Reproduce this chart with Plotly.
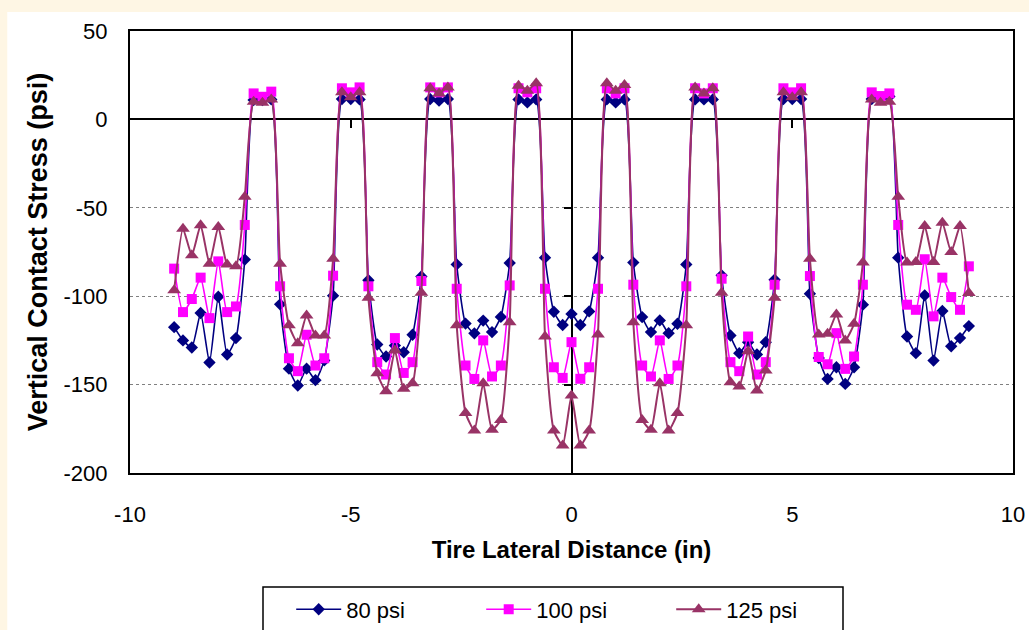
import plotly.graph_objects as go

# Lateral positions (in)
x_in = [-9.0, -8.8, -8.6, -8.4, -8.2, -8.0, -7.8, -7.6, -7.4, -7.2,
        -7.0, -6.8, -6.6, -6.4, -6.2, -6.0, -5.8, -5.6, -5.4, -5.2,
        -5.0, -4.8, -4.6, -4.4, -4.2, -4.0, -3.8, -3.6, -3.4, -3.2,
        -3.0, -2.8, -2.6, -2.4, -2.2, -2.0, -1.8, -1.6, -1.4, -1.2,
        -1.0, -0.8, -0.6, -0.4, -0.2, 0.0, 0.2, 0.4, 0.6, 0.8,
        1.0, 1.2, 1.4, 1.6, 1.8, 2.0, 2.2, 2.4, 2.6, 2.8,
        3.0, 3.2, 3.4, 3.6, 3.8, 4.0, 4.2, 4.4, 4.6, 4.8,
        5.0, 5.2, 5.4, 5.6, 5.8, 6.0, 6.2, 6.4, 6.6, 6.8,
        7.0, 7.2, 7.4, 7.6, 7.8, 8.0, 8.2, 8.4, 8.6, 8.8, 9.0]

psi80 = [-117.5, -125.0, -129.0, -109.5, -137.5, -100.3, -133.0, -123.7, -79.3, 11.0,
         11.0, 11.3, -104.6, -141.0, -150.5, -141.0, -147.5, -136.3, -99.7, 11.5,
         11.5, 11.3, -91.0, -127.3, -134.1, -127.9, -131.7, -121.8, -88.8, 11.5,
         10.6, 11.5, -82.0, -115.5, -121.0, -113.8, -120.3, -111.7, -81.2, 11.3,
         9.6, 11.3, -78.2, -108.8, -116.3, -110.0, -116.3, -108.6, -78.2, 11.3,
         9.6, 11.3, -81.0, -111.8, -120.3, -113.7, -120.9, -115.6, -82.0, 11.3,
         11.3, 11.3, -88.2, -122.2, -132.2, -126.0, -133.0, -126.0, -90.7, 11.5,
         11.5, 11.5, -98.6, -135.0, -146.8, -140.2, -149.6, -140.2, -104.8, 11.5,
         11.5, 13.0, -78.2, -122.8, -132.2, -99.5, -136.4, -108.4, -128.3, -123.7, -116.9]

psi100 = [-84.4, -109.0, -101.6, -89.5, -112.4, -80.3, -109.0, -105.8, -59.7, 14.7,
          12.8, 15.7, -94.4, -135.1, -142.4, -121.8, -139.2, -135.1, -88.4, 17.6,
          15.3, 18.1, -94.4, -137.3, -144.3, -123.7, -143.4, -137.3, -91.4, 18.1,
          15.3, 18.1, -95.8, -139.2, -146.8, -125.0, -145.4, -139.2, -93.9, 17.6,
          15.3, 17.6, -95.8, -140.2, -146.2, -126.0, -146.7, -140.2, -95.8, 17.6,
          14.7, 17.6, -93.5, -139.2, -145.4, -125.0, -146.8, -139.2, -94.4, 17.6,
          14.7, 17.6, -90.1, -137.3, -142.4, -122.8, -144.3, -137.3, -93.5, 17.6,
          15.3, 17.6, -88.6, -134.4, -138.5, -120.9, -141.1, -134.1, -93.5, 15.3,
          13.2, 14.7, -59.7, -104.8, -107.7, -79.1, -111.4, -89.5, -100.5, -107.7, -83.1]

psi125 = [-96.7, -61.8, -76.9, -59.9, -81.6, -60.8, -82.0, -83.1, -43.8, 10.0,
          9.4, 11.3, -81.6, -116.5, -126.6, -110.9, -122.2, -122.2, -78.8, 15.3,
          12.5, 15.3, -100.9, -143.6, -153.8, -130.7, -152.4, -149.2, -98.0, 17.6,
          14.7, 18.1, -116.5, -166.0, -176.0, -149.2, -175.5, -170.0, -114.7, 19.1,
          16.2, 20.4, -122.8, -176.0, -184.5, -156.2, -184.5, -176.0, -121.6, 20.4,
          16.2, 19.5, -114.7, -170.0, -175.5, -149.2, -176.0, -166.0, -116.5, 18.1,
          14.7, 17.6, -98.0, -148.7, -151.1, -131.1, -153.4, -142.0, -100.9, 15.3,
          12.5, 15.3, -78.8, -121.6, -121.3, -110.3, -125.0, -115.6, -81.0, 11.3,
          9.4, 10.0, -43.8, -81.0, -80.6, -60.3, -80.6, -58.4, -75.0, -60.3, -98.2]

x_ticks = [-10, -5, 0, 5, 10]
y_ticks = [-200, -150, -100, -50, 0, 50]

series_names = ["80 psi", "100 psi", "125 psi"]
series_colors = ["#000080", "#FF00FF", "#993366"]
series_symbols = ["diamond", "square", "triangle-up"]
series_sizes = [9.5, 10, 12]
series_widths = [1.6, 1.6, 2.0]

x_range = [-10, 10]
y_range = [-200, 50]

FONT = "Arial, Liberation Sans, sans-serif"

fig = go.Figure()
for name, vals, col, sym, sz, lw in zip(series_names, [psi80, psi100, psi125],
                                         series_colors, series_symbols,
                                         series_sizes, series_widths):
    fig.add_trace(go.Scatter(
        x=x_in, y=vals, name=name, mode="lines+markers",
        line=dict(color=col, width=lw, shape="spline", smoothing=0.5),
        marker=dict(symbol=sym, size=sz, color=col, line=dict(width=0)),
    ))

# invisible trace hosting the tick-mark axes that sit on the zero lines
fig.add_trace(go.Scatter(x=x_in, y=psi80, xaxis="x2", yaxis="y2",
                         mode="lines", line=dict(color="rgba(0,0,0,0)"),
                         showlegend=False, hoverinfo="skip"))

x_zero_pos = (0 - y_range[0]) / (y_range[1] - y_range[0])
y_zero_pos = (0 - x_range[0]) / (x_range[1] - x_range[0])

fig.update_layout(
    width=1029, height=630,
    margin=dict(l=130, r=16, t=31, b=157, autoexpand=False),
    paper_bgcolor="#FEF6E4",
    plot_bgcolor="white",
    font=dict(family=FONT, size=20, color="black"),
    showlegend=True,
    legend=dict(orientation="h", xref="container", yref="container",
                x=0.283, xanchor="left", y=0.066, yanchor="top",
                bgcolor="rgba(0,0,0,0)", borderwidth=0,
                font=dict(family=FONT, size=22, color="black"),
                itemwidth=45, entrywidth=130, entrywidthmode="pixels",
                traceorder="normal"),
    xaxis=dict(range=x_range, tickvals=x_ticks,
               ticktext=[str(v) for v in x_ticks], showgrid=False,
               zeroline=True, zerolinecolor="black", zerolinewidth=2,
               showline=True, mirror=True, linecolor="black", linewidth=2,
               ticks="", ticklabelstandoff=21, automargin=False,
               tickfont=dict(family=FONT, size=22),
               title=dict(text="<b>Tire Lateral Distance (in)</b>",
                          font=dict(family=FONT, size=24), standoff=15)),
    yaxis=dict(range=y_range, tickvals=y_ticks,
               ticktext=[str(v) for v in y_ticks], showgrid=True,
               gridcolor="#808080", griddash="dot", gridwidth=1,
               zeroline=True, zerolinecolor="black", zerolinewidth=2,
               showline=True, mirror=True, linecolor="black", linewidth=2,
               ticks="", ticklabelstandoff=16, automargin=False,
               tickfont=dict(family=FONT, size=22),
               title=dict(text="<b>Vertical Contact Stress (psi)</b>",
                          font=dict(family=FONT, size=27), standoff=8)),
    xaxis2=dict(range=x_range, overlaying="x", anchor="free",
                position=x_zero_pos, side="bottom", tickvals=[-5, 5],
                ticks="outside", ticklen=8, tickwidth=1.5, tickcolor="black",
                showticklabels=False, showgrid=False, zeroline=False,
                showline=False),
    yaxis2=dict(range=y_range, overlaying="y", anchor="free",
                position=y_zero_pos, side="left", tickvals=[-150, -100, -50],
                ticks="outside", ticklen=8, tickwidth=1.5, tickcolor="black",
                showticklabels=False, showgrid=False, zeroline=False,
                showline=False),
    shapes=[dict(type="rect", xref="paper", yref="paper",
                 x0=-0.139, x1=1.03, y0=-0.4, y1=1.043,
                 fillcolor="white", line=dict(width=0), layer="below"),
            dict(type="rect", xref="paper", yref="paper",
                 x0=(263 - 130) / 883, x1=(843 - 130) / 883,
                 y0=-0.4, y1=(473 - 587) / 442,
                 fillcolor="white", line=dict(color="black", width=1.5),
                 layer="below")],
)

fig.write_html("out.html")
